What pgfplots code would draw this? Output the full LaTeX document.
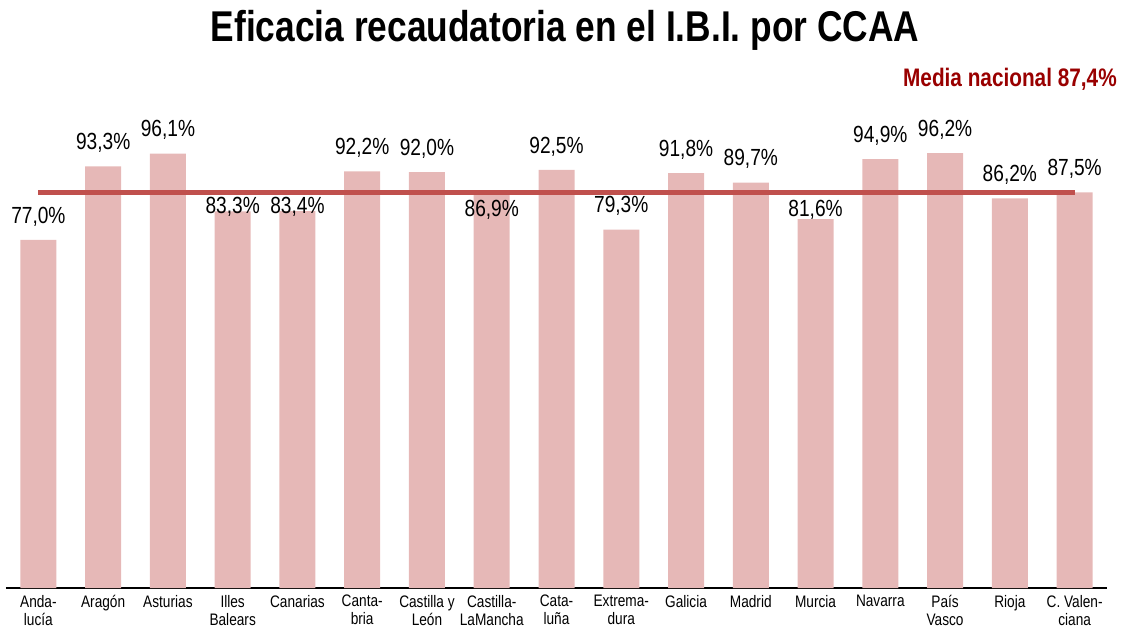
\documentclass[border=0pt]{standalone}
\usepackage{fontspec}
\setmainfont{Liberation Sans}[FakeStretch=0.82]
\usepackage{pgfplots}
\pgfplotsset{compat=1.18}
\definecolor{barpink}{HTML}{E6B8B7}
\definecolor{meanred}{HTML}{C0504D}
\definecolor{darkred}{HTML}{990000}
\begin{document}
\begin{tikzpicture}
\useasboundingbox (-4.5pt,-30pt) rectangle (840.75pt,441pt);
\begin{axis}[
  at={(0pt,0pt)}, anchor=south west,
  width=825.75pt, height=339pt, scale only axis,
  xmin=-0.5, xmax=16.5, ymin=0, ymax=100,
  axis x line=bottom, axis y line=none,
  x axis line style={-, black, line width=0.8pt},
  xtick={0,...,16},
  xticklabels={{Anda-\\lucía},{Aragón},{Asturias},{Illes\\Balears},{Canarias},{Canta-\\bria},{Castilla y\\León},{Castilla-\\LaMancha},{Cata-\\luña},{Extrema-\\dura},{Galicia},{Madrid},{Murcia},{Navarra},{País\\Vasco},{Rioja},{C. Valen-\\ciana}},
  major tick length=0pt,
  xticklabel style={font=\fontsize{12.5}{13.5}\selectfont, align=center, anchor=north, inner sep=0pt, yshift=-5pt},
  ytick=\empty,
  clip=false,
]
\addplot[ybar, bar width=27pt, fill=barpink, draw=none] coordinates {
(0,77.0) (1,93.3) (2,96.1) (3,83.3) (4,83.4) (5,92.2) (6,92.0) (7,86.9) (8,92.5)
(9,79.3) (10,91.8) (11,89.7) (12,81.6) (13,94.9) (14,96.2) (15,86.2) (16,87.5)
};
\addplot[meanred, line width=3.75pt, mark=none] coordinates {(0,87.4) (16,87.4)};
\addplot[draw=none, mark=none, nodes near coords, point meta=explicit symbolic,
  every node near coord/.append style={anchor=center, inner sep=0pt, font=\fontsize{17.5}{19}\selectfont, text=black}]
  coordinates {
(0,82.2) [77,0\%]
(1,98.5) [93,3\%]
(2,101.3) [96,1\%]
(3,84.3) [83,3\%]
(4,84.4) [83,4\%]
(5,97.4) [92,2\%]
(6,97.2) [92,0\%]
(7,83.6) [86,9\%]
(8,97.7) [92,5\%]
(9,84.5) [79,3\%]
(10,97.0) [91,8\%]
(11,94.9) [89,7\%]
(12,83.6) [81,6\%]
(13,100.1) [94,9\%]
(14,101.4) [96,2\%]
(15,91.4) [86,2\%]
(16,92.7) [87,5\%]
};
\end{axis}
\node[anchor=base, inner sep=0pt, font=\fontsize{32.3}{34}\selectfont\bfseries] at (419.25pt,409.5pt) {Eficacia recaudatoria en el I.B.I. por CCAA};
\node[anchor=base east, inner sep=0pt, font=\fontsize{19}{21}\selectfont\bfseries, text=darkred] at (833.25pt,375.75pt) {Media nacional 87,4\%};
\end{tikzpicture}
\end{document}
